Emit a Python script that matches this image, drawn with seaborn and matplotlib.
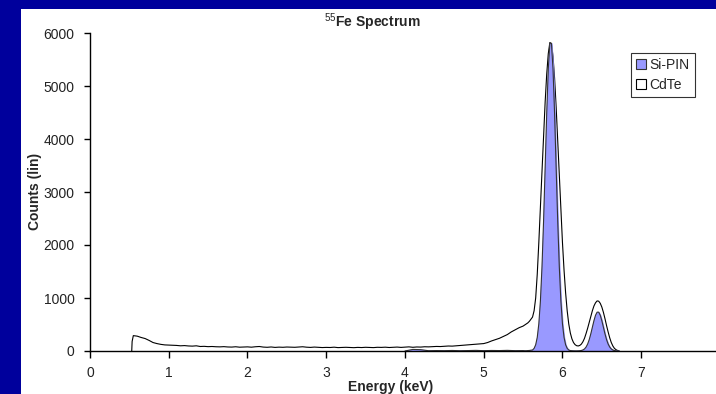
import numpy as np
import pandas as pd
import seaborn as sns
import matplotlib
matplotlib.use('Agg')
import matplotlib.pyplot as plt
from matplotlib.patches import Patch, Rectangle

# CdTe low energy part (0.55 .. 5.50 keV, 0.05 keV bins)
tail_energy = np.round(np.arange(0.55, 5.501, 0.05), 2)
cdte_tail = [290, 280, 255, 235, 200, 160, 140, 125, 115, 112,
             108, 105, 98, 102, 95, 92, 98, 85, 88, 82,
             85, 80, 78, 82, 76, 74, 80, 72, 75, 78,
             72, 80, 85, 74, 70, 76, 68, 73, 70, 75,
             72, 70, 76, 80, 72, 68, 74, 70, 65, 68,
             66, 72, 64, 68, 70, 66, 63, 68, 65, 70,
             66, 64, 70, 68, 72, 66, 70, 74, 68, 72,
             78, 70, 76, 74, 80, 78, 82, 86, 84, 90,
             94, 92, 98, 104, 110, 115, 120, 126, 132, 140,
             160, 190, 215, 240, 275, 310, 360, 400, 440, 470]

# peak region (5.52 .. 6.72 keV, 0.02 keV bins)
peak_energy = np.round(np.arange(5.52, 6.721, 0.02), 2)
cdte_peak = [490, 510, 530, 560, 600, 640, 760, 1000, 1450, 2050,
             2700, 3380, 4050, 4690, 5220, 5610, 5820, 5800, 5560, 5150,
             4600, 3960, 3300, 2650, 2050, 1530, 1100, 760, 510, 340,
             230, 160, 120, 100, 95, 105, 130, 175, 240, 330,
             430, 540, 650, 760, 850, 910, 945, 940, 900, 830,
             730, 610, 480, 360, 250, 160, 95, 50, 25, 10,
             0]
sipin_peak = [5, 5, 8, 10, 15, 19, 50, 118, 258, 515,
              944, 1587, 2445, 3455, 4479, 5325, 5806, 5806, 5325, 4479,
              3455, 2445, 1587, 944, 515, 258, 118, 50, 19, 8,
              5, 3, 2, 2, 3, 5, 10, 20, 39, 75,
              132, 215, 324, 449, 573, 675, 733, 733, 675, 573,
              449, 324, 215, 132, 75, 39, 19, 8, 3, 0,
              0]

# Si-PIN low energy part
sipin_low_energy = [4.0, 4.1, 4.2, 4.3, 4.4, 4.5, 4.6, 4.7, 4.8, 4.9,
                    5.0, 5.1, 5.2, 5.3, 5.4, 5.5]
sipin_low = [0, 30, 25, 5, 8, 6, 10, 5, 8, 12, 6, 10, 8, 12, 6, 8]

cdte = pd.DataFrame({'energy': np.concatenate([[0.53, 0.535], tail_energy, peak_energy]),
                     'counts': np.concatenate([[0, 180], cdte_tail, cdte_peak])})
sipin = pd.DataFrame({'energy': np.concatenate([sipin_low_energy, peak_energy]),
                      'counts': np.concatenate([sipin_low, sipin_peak])})

sns.set_style('ticks')
plt.rcParams['font.family'] = ['Liberation Sans', 'DejaVu Sans']
plt.rcParams['mathtext.fontset'] = 'custom'
plt.rcParams['mathtext.rm'] = 'Liberation Sans'

fig = plt.figure(figsize=(7.16, 3.94), dpi=100, facecolor='#00009C')
fig.add_artist(Rectangle((21 / 716, 0), 1 - 21 / 716, 385 / 394,
                         transform=fig.transFigure, facecolor='white',
                         edgecolor='none', zorder=0))
ax = fig.add_axes([90 / 716, 43 / 394, 626 / 716, 318 / 394])
ax.set_facecolor('none')

ax.fill_between(cdte['energy'], cdte['counts'], color='white', zorder=2)
sns.lineplot(data=cdte, x='energy', y='counts', ax=ax, color='black', lw=0.8, zorder=3)
ax.fill_between(sipin['energy'], sipin['counts'], color='#9999FF', zorder=4)
sns.lineplot(data=sipin, x='energy', y='counts', ax=ax, color='#333333', lw=0.8, zorder=5)

ax.set_xlim(0, 7.95)
ax.set_ylim(0, 6000)
ax.set_xticks(range(0, 8))
ax.set_yticks(range(0, 6001, 1000))
ax.set_xlabel('')
ax.set_ylabel('')
sns.despine(ax=ax)
for s in ['left', 'bottom']:
    ax.spines[s].set_color('black')
    ax.spines[s].set_linewidth(1)
    ax.spines[s].set_zorder(6)
ax.tick_params(axis='x', direction='out', length=5, width=1, pad=6,
               labelsize=10, colors='black', labelcolor='#222222')
ax.tick_params(axis='y', direction='out', length=4, width=1, pad=7,
               labelsize=10, colors='black', labelcolor='#222222')

fig.text(372 / 716, 1 - 22 / 394, r'$^{55}$Fe Spectrum', fontsize=10,
         fontweight='bold', ha='center', va='center')
fig.text(35 / 716, 1 - 191 / 394, 'Counts (lin)', fontsize=10, fontweight='bold',
         rotation=90, ha='center', va='center')
fig.text(391 / 716, 1 - 387 / 394, 'Energy (keV)', fontsize=10, fontweight='bold',
         ha='center', va='center')

handles = [Patch(facecolor='#9999FF', edgecolor='#333333', lw=0.8, label='Si-PIN'),
           Patch(facecolor='white', edgecolor='black', lw=0.8, label='CdTe')]
leg = ax.legend(handles=handles, loc='upper left', bbox_to_anchor=(631 / 716, 1 - 53 / 394),
                bbox_transform=fig.transFigure, fontsize=10, frameon=True, fancybox=False,
                borderpad=0.35, handlelength=0.7, handleheight=0.7, handletextpad=0.3,
                labelspacing=0.45, borderaxespad=0)
leg.get_frame().set_edgecolor('black')
leg.get_frame().set_linewidth(0.8)

fig.savefig('out.png', dpi=100, facecolor=fig.get_facecolor())
